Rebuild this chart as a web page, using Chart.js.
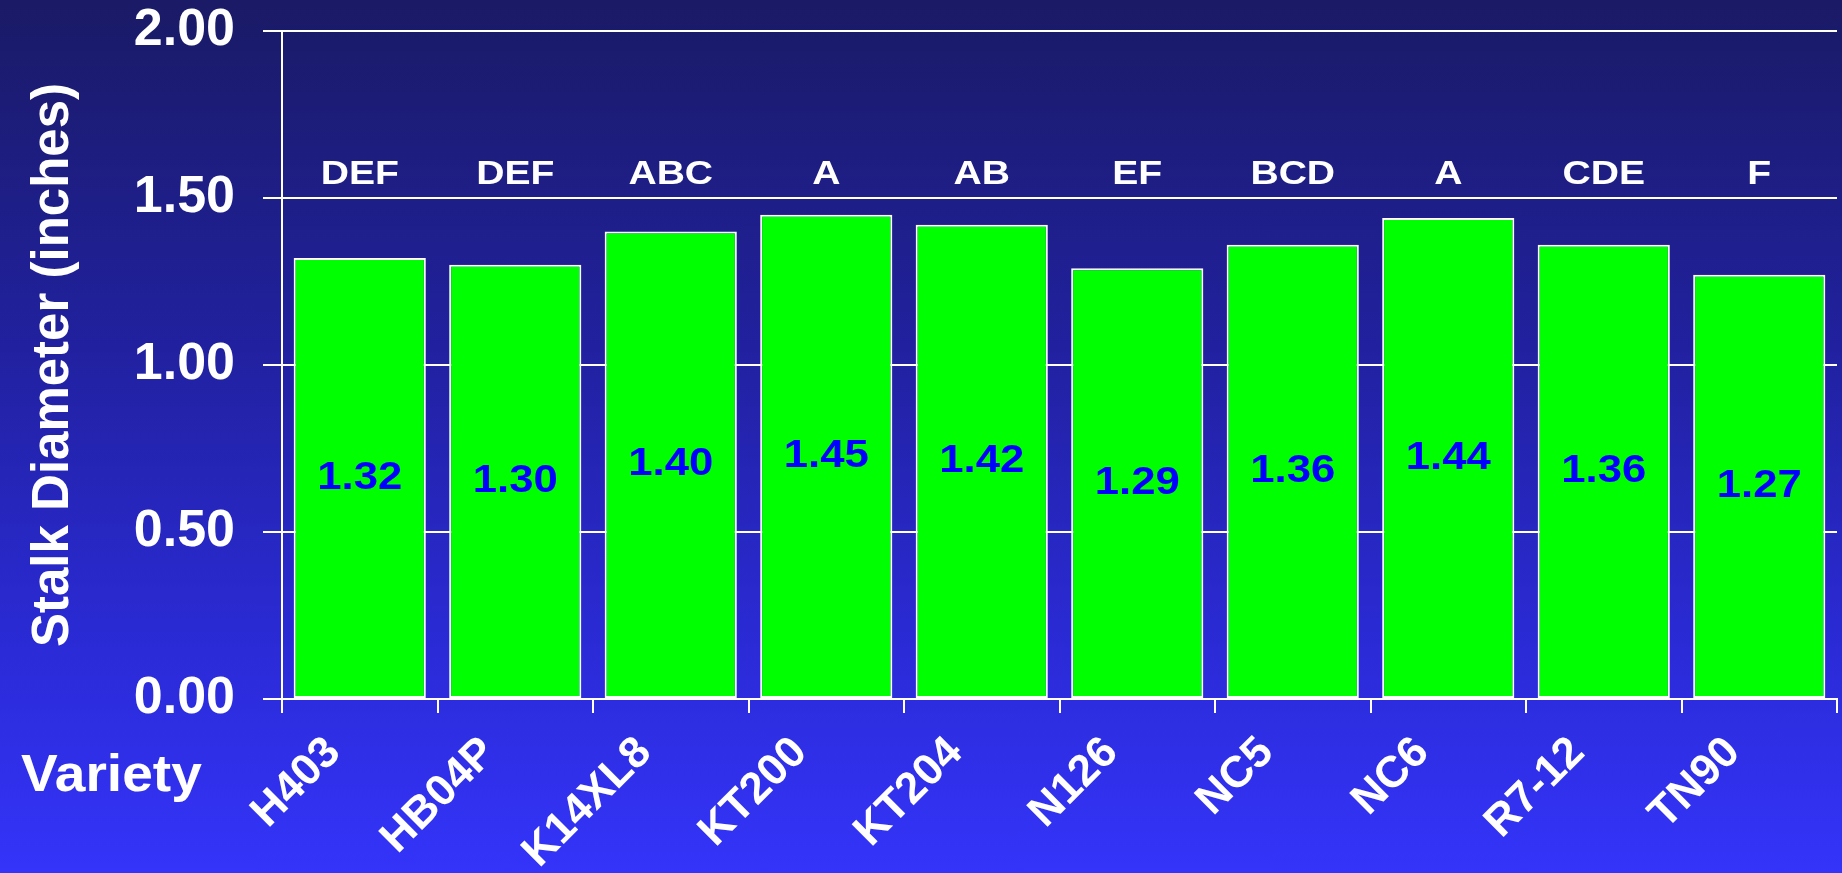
<!DOCTYPE html>
<html><head><meta charset="utf-8">
<script src="https://cdn.jsdelivr.net/npm/chart.js@4/dist/chart.umd.min.js"></script>
<style>
html,body{margin:0;padding:0;width:1842px;height:873px;overflow:hidden;
background:linear-gradient(to bottom,#1a1a66 0%,#2121a0 40%,#2b2bd8 75%,#3434fa 100%);}
canvas{display:block}
</style>
</head><body>
<canvas id="c" width="1842" height="873"></canvas>
<script>
const varieties = ['H403','HB04P','K14XL8','KT200','KT204','N126','NC5','NC6','R7-12','TN90'];
const diameters = [1.32,1.30,1.40,1.45,1.42,1.29,1.36,1.44,1.36,1.27];
const groupLetters = ['DEF','DEF','ABC','A','AB','EF','BCD','A','CDE','F'];
const yTickValues = [0,0.5,1.0,1.5,2.0];
const yAxisTitle = 'Stalk Diameter (inches)';
const xAxisTitle = 'Variety';

const FONT = '"Liberation Sans", Arial, sans-serif';

function stretchedText(ctx, text, x, y, sx) {
  ctx.save();
  ctx.translate(x, y);
  ctx.scale(sx, 1);
  ctx.fillText(text, 0, 0);
  ctx.restore();
}

const labelPlugin = {
  id: 'labels',
  afterDatasetsDraw(chart) {
    const ctx = chart.ctx;
    const meta = chart.getDatasetMeta(0);
    const ys = chart.scales.y;
    ctx.save();
    ctx.textAlign = 'center';
    ctx.textBaseline = 'middle';
    meta.data.forEach((el, i) => {
      ctx.font = 'bold 39px ' + FONT;
      ctx.fillStyle = '#0000ff';
      stretchedText(ctx, diameters[i].toFixed(2), el.x, (el.y + el.base) / 2, 1.12);
      ctx.font = 'bold 34px ' + FONT;
      ctx.fillStyle = '#ffffff';
      stretchedText(ctx, groupLetters[i], el.x, ys.getPixelForValue(1.57), 1.15);
    });
    ctx.font = 'bold 52px ' + FONT;
    ctx.textAlign = 'left';
    ctx.fillStyle = '#ffffff';
    stretchedText(ctx, xAxisTitle, 21, 777, 1.06);
    ctx.restore();
  }
};

new Chart(document.getElementById('c'), {
  type: 'bar',
  data: {
    labels: varieties,
    datasets: [{
      data: diameters,
      backgroundColor: '#00ff00',
      borderColor: '#ffffff',
      borderWidth: 2,
      borderSkipped: false,
      barPercentage: 0.85,
      categoryPercentage: 1.0
    }]
  },
  options: {
    responsive: false,
    animation: false,
    layout: { padding: { top: 31, right: 5, left: 0, bottom: 0 } },
    plugins: { legend: { display: false }, tooltip: { enabled: false } },
    scales: {
      x: {
        offset: true,
        grid: { display: true, drawOnChartArea: false, drawTicks: true, tickLength: 14, color: '#ffffff', lineWidth: 2 },
        border: { display: true, color: '#ffffff', width: 2 },
        ticks: {
          color: '#ffffff', font: { family: FONT, weight: 'bold', size: 44 },
          minRotation: 45, maxRotation: 45, padding: 14, labelOffset: -26, autoSkip: false
        },
        afterFit(s) { s.height = 174; s.paddingLeft = 0; s.paddingRight = 0; }
      },
      y: {
        min: 0, max: 2,
        afterBuildTicks(s) { s.ticks = yTickValues.map(v => ({ value: v })); },
        grid: { color: '#ffffff', lineWidth: 2, tickLength: 19, drawTicks: true },
        border: { display: true, color: '#ffffff', width: 2 },
        ticks: {
          color: '#ffffff', font: { family: FONT, weight: 'bold', size: 52 },
          padding: 28, callback: v => Number(v).toFixed(2)
        },
        title: {
          display: true, text: yAxisTitle, color: '#ffffff',
          font: { family: FONT, weight: 'bold', size: 51 }, padding: { top: 23, bottom: 0 }
        },
        afterFit(s) { s.width = 282; s.paddingTop = 0; s.paddingBottom = 0; }
      }
    }
  },
  plugins: [labelPlugin]
});
</script>
</body></html>
